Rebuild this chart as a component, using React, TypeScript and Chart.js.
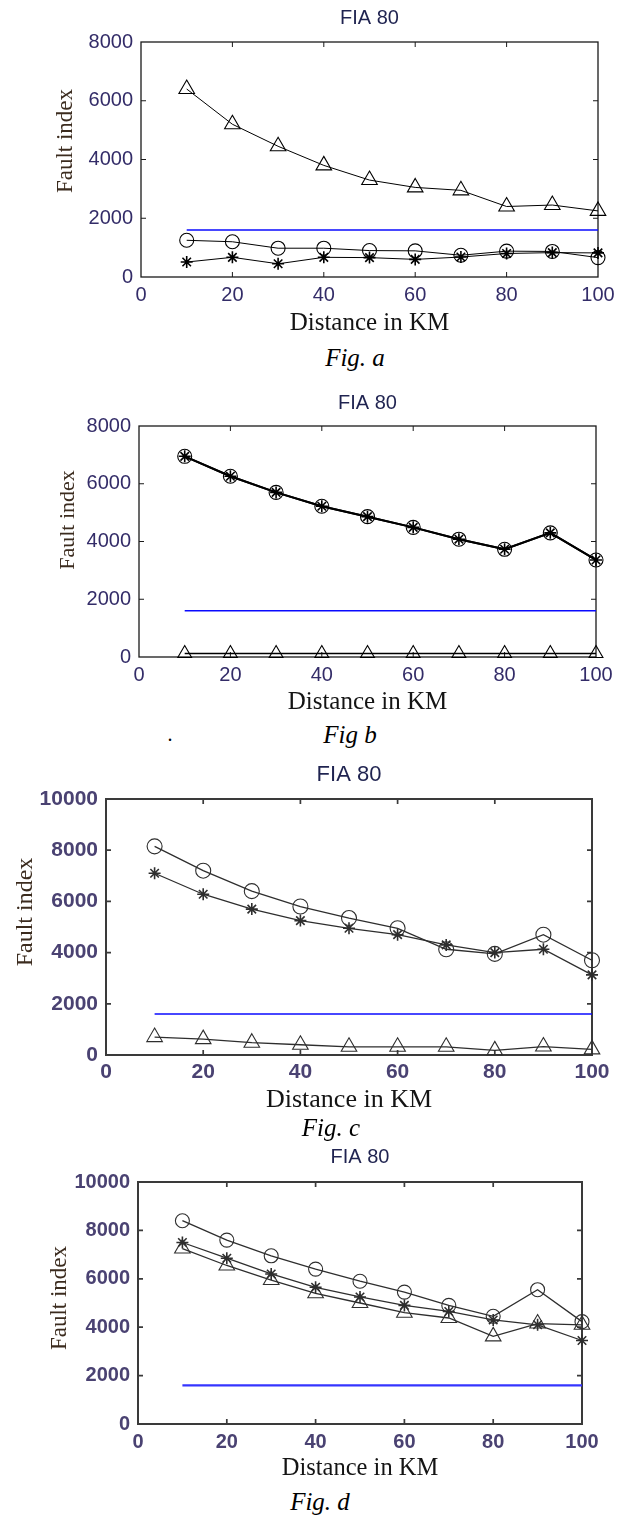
import React, { useEffect, useRef } from "react";
import { Chart, registerables } from "chart.js";
Chart.register(...registerables);

// ---------------- data ----------------
const distanceKm = [10, 20, 30, 40, 50, 60, 70, 80, 90, 100];
const chartTitle = "FIA 80";
const xAxisLabel = "Distance in KM";
const yAxisLabel = "Fault index";
const captions = ["Fig. a", "Fig b", "Fig. c", "Fig. d"];

// Fig. a
const aTriangle = [6400, 5200, 4450, 3800, 3300, 3050, 2950, 2400, 2450, 2250];
const aCircle = [1250, 1200, 980, 980, 900, 890, 740, 880, 870, 660];
const aStar = [510, 670, 450, 670, 660, 600, 680, 800, 830, 820];
const aThreshold = [1600, 1600, 1600, 1600, 1600, 1600, 1600, 1600, 1600, 1600];

// Fig b
const bCircle = [6950, 6260, 5700, 5220, 4860, 4490, 4080, 3730, 4300, 3360];
const bStar = [6950, 6260, 5700, 5220, 4860, 4490, 4080, 3730, 4300, 3360];
const bTriangle = [120, 120, 120, 120, 120, 120, 120, 120, 120, 120];
const bThreshold = [1600, 1600, 1600, 1600, 1600, 1600, 1600, 1600, 1600, 1600];

// Fig. c
const cCircle = [8150, 7200, 6400, 5800, 5350, 4950, 4130, 3950, 4700, 3700];
const cStar = [7100, 6280, 5700, 5250, 4950, 4700, 4300, 4000, 4130, 3130];
const cTriangle = [700, 620, 480, 400, 320, 320, 320, 180, 330, 220];
const cThreshold = [1600, 1600, 1600, 1600, 1600, 1600, 1600, 1600, 1600, 1600];

// Fig. d
const dCircle = [8400, 7600, 6950, 6400, 5900, 5450, 4900, 4450, 5550, 4230];
const dStar = [7500, 6850, 6200, 5650, 5250, 4900, 4650, 4300, 4100, 3450];
const dTriangle = [7250, 6550, 5950, 5400, 5000, 4600, 4380, 3620, 4150, 4100];
const dThreshold = [1600, 1600, 1600, 1600, 1600, 1600, 1600, 1600, 1600, 1600];

const xMax = 100;
const xStep = 20;
const yStep = 2000;

// ---------------- layout / styles ----------------
type SeriesSpec = { values: number[]; marker: string | false; color: string; width: number; radius: number };

type PanelSpec = {
  top: number;
  height: number;
  plotLeft: number;
  plotRight: number;
  plotTop: number;
  plotBottom: number;
  yMax: number;
  titleSize: number;
  titleCenter: number;
  tickSize: number;
  tickWeight: string;
  tickColor: string;
  tickPad: number;
  xTitleSize: number;
  yTitleSize: number;
  yTitleX: number;
  yTitleY: number;
  frameColor: string;
  frameWidth: number;
  series: SeriesSpec[];
  caption: string;
  captionX: number;
  captionY: number;
};

const BLACK = "#000000";
const GREY = "#2e2e2e";
const BLUE = "#0a0aff";

const panels: PanelSpec[] = [
  {
    top: 0, height: 338, plotLeft: 141, plotRight: 598, plotTop: 42, plotBottom: 277, yMax: 8000,
    titleSize: 20, titleCenter: 18, tickSize: 20, tickWeight: "normal", tickColor: "#332c68", tickPad: 6,
    xTitleSize: 25, yTitleSize: 23, yTitleX: 66, yTitleY: 141, frameColor: "#1a1a1a", frameWidth: 1.3,
    series: [
      { values: aTriangle, marker: "triangle", color: BLACK, width: 1, radius: 9 },
      { values: aThreshold, marker: false, color: BLUE, width: 1.6, radius: 0 },
      { values: aCircle, marker: "circle", color: BLACK, width: 1, radius: 7 },
      { values: aStar, marker: "star", color: BLACK, width: 1, radius: 6 },
    ],
    caption: captions[0], captionX: 355, captionY: 358,
  },
  {
    top: 380, height: 337, plotLeft: 139, plotRight: 596, plotTop: 46, plotBottom: 277, yMax: 8000,
    titleSize: 20, titleCenter: 23, tickSize: 20, tickWeight: "normal", tickColor: "#332c68", tickPad: 6,
    xTitleSize: 25, yTitleSize: 22, yTitleX: 68, yTitleY: 140, frameColor: "#1a1a1a", frameWidth: 1.3,
    series: [
      { values: bCircle, marker: "circle", color: BLACK, width: 2, radius: 7 },
      { values: bStar, marker: "star", color: BLACK, width: 2, radius: 6 },
      { values: bThreshold, marker: false, color: BLUE, width: 1.6, radius: 0 },
      { values: bTriangle, marker: "triangle", color: BLACK, width: 1.6, radius: 8 },
    ],
    caption: captions[1], captionX: 350, captionY: 735,
  },
  {
    top: 760, height: 356, plotLeft: 106, plotRight: 592, plotTop: 39, plotBottom: 295, yMax: 10000,
    titleSize: 22, titleCenter: 15, tickSize: 21, tickWeight: "bold", tickColor: "#4a4272", tickPad: 5,
    xTitleSize: 26, yTitleSize: 24, yTitleX: 26, yTitleY: 152, frameColor: "#3a3a3a", frameWidth: 2,
    series: [
      { values: cCircle, marker: "circle", color: GREY, width: 1.3, radius: 7.5 },
      { values: cStar, marker: "star", color: GREY, width: 1.3, radius: 6 },
      { values: cThreshold, marker: false, color: BLUE, width: 1.6, radius: 0 },
      { values: cTriangle, marker: "triangle", color: GREY, width: 1.3, radius: 9 },
    ],
    caption: captions[2], captionX: 331, captionY: 1128,
  },
  {
    top: 1140, height: 343, plotLeft: 138, plotRight: 582, plotTop: 42, plotBottom: 284, yMax: 10000,
    titleSize: 20, titleCenter: 17, tickSize: 20, tickWeight: "bold", tickColor: "#4a4272", tickPad: 6,
    xTitleSize: 24.5, yTitleSize: 23, yTitleX: 60, yTitleY: 158, frameColor: "#3a3a3a", frameWidth: 2,
    series: [
      { values: dCircle, marker: "circle", color: GREY, width: 1.3, radius: 7 },
      { values: dStar, marker: "star", color: GREY, width: 1.3, radius: 6 },
      { values: dTriangle, marker: "triangle", color: GREY, width: 1.3, radius: 9 },
      { values: dThreshold, marker: false, color: "#3535ff", width: 2.2, radius: 0 },
    ],
    caption: captions[3], captionX: 320, captionY: 1502,
  },
];

const SANS = "'Liberation Sans', Arial, sans-serif";
const SERIF = "'Liberation Serif', 'Times New Roman', serif";

const framePlugin = {
  id: "frame",
  beforeDatasetsDraw(chart: any, _args: any, opts: any) {
    const { ctx, chartArea } = chart;
    const { left, right, top, bottom } = chartArea;
    const xs = chart.scales.x;
    const ys = chart.scales.y;
    ctx.save();
    ctx.strokeStyle = opts.color;
    ctx.lineWidth = opts.width;
    ctx.strokeRect(left, top, right - left, bottom - top);
    ctx.beginPath();
    const tl = 5;
    xs.ticks.forEach((t: any) => {
      const p = xs.getPixelForValue(t.value);
      if (p <= left + 1 || p >= right - 1) return;
      ctx.moveTo(p, bottom);
      ctx.lineTo(p, bottom - tl);
      ctx.moveTo(p, top);
      ctx.lineTo(p, top + tl);
    });
    ys.ticks.forEach((t: any) => {
      const p = ys.getPixelForValue(t.value);
      if (p <= top + 1 || p >= bottom - 1) return;
      ctx.moveTo(left, p);
      ctx.lineTo(left + tl, p);
      ctx.moveTo(right, p);
      ctx.lineTo(right - tl, p);
    });
    ctx.lineWidth = Math.max(1, opts.width - 0.3);
    ctx.stroke();
    ctx.restore();
  },
  afterDraw(chart: any, _args: any, opts: any) {
    const { ctx } = chart;
    ctx.save();
    ctx.translate(opts.yTitleX, opts.yTitleY);
    ctx.rotate(-Math.PI / 2);
    ctx.font = `${opts.yTitleSize}px ${SERIF}`;
    ctx.fillStyle = "#3b2b1e";
    ctx.textAlign = "center";
    ctx.textBaseline = "middle";
    ctx.fillText(opts.yTitleText, 0, 0);
    ctx.restore();
  },
};

function Panel({ spec }: { spec: PanelSpec }) {
  const ref = useRef<HTMLCanvasElement | null>(null);
  useEffect(() => {
    if (!ref.current) return;
    const titleLH = spec.titleSize * 1.2;
    const titlePadTop = spec.titleCenter - titleLH / 2;
    const titlePadBottom = spec.plotTop - titlePadTop - titleLH;
    const chart = new Chart(ref.current, {
      type: "line",
      data: {
        datasets: spec.series.map((s, i) => ({
          label: "s" + i,
          data: distanceKm.map((d, j) => ({ x: d, y: s.values[j] })),
          borderColor: s.color,
          borderWidth: s.width,
          pointStyle: s.marker === false ? false : (s.marker as any),
          pointRadius: s.radius,
          pointBorderColor: s.color,
          pointBorderWidth: s.marker === "star" ? 1.6 : 1.1,
          pointBackgroundColor: "rgba(0,0,0,0)",
          tension: 0,
          clip: false as any,
        })),
      },
      options: {
        responsive: false,
        animation: false,
        events: [],
        layout: { padding: { top: 0, left: 0, bottom: 0, right: 624 - spec.plotRight } },
        plugins: {
          legend: { display: false },
          tooltip: { enabled: false },
          title: {
            display: true,
            text: chartTitle,
            fullSize: false,
            color: "#1f2350",
            font: { family: SANS, size: spec.titleSize, weight: "normal" as any, lineHeight: 1.2 },
            padding: { top: titlePadTop, bottom: titlePadBottom },
          },
          frame: {
            color: spec.frameColor,
            width: spec.frameWidth,
            yTitleX: spec.yTitleX,
            yTitleY: spec.yTitleY,
            yTitleSize: spec.yTitleSize,
            yTitleText: yAxisLabel,
          },
        } as any,
        scales: {
          x: {
            type: "linear",
            min: 0,
            max: xMax,
            grid: { display: false, drawTicks: false },
            border: { display: false },
            ticks: {
              stepSize: xStep,
              padding: spec.tickPad,
              maxRotation: 0,
              color: spec.tickColor,
              font: { family: SANS, size: spec.tickSize, weight: spec.tickWeight as any, lineHeight: 1.2 },
              callback: (v: any) => String(v),
            },
            title: {
              display: true,
              text: xAxisLabel,
              color: "#141414",
              padding: 0,
              font: { family: SERIF, size: spec.xTitleSize, lineHeight: 1.2 },
            },
            afterFit: (s: any) => {
              s.height = spec.height - spec.plotBottom;
            },
          },
          y: {
            type: "linear",
            min: 0,
            max: spec.yMax,
            grid: { display: false, drawTicks: false },
            border: { display: false },
            ticks: {
              stepSize: yStep,
              padding: 8,
              color: spec.tickColor,
              font: { family: SANS, size: spec.tickSize, weight: spec.tickWeight as any, lineHeight: 1.2 },
              callback: (v: any) => String(v),
            },
            afterFit: (s: any) => {
              s.width = spec.plotLeft;
            },
          },
        },
      },
      plugins: [framePlugin as any],
    });
    return () => chart.destroy();
  }, [spec]);
  return (
    <canvas
      ref={ref}
      width={624}
      height={spec.height}
      style={{ position: "absolute", left: 0, top: spec.top, width: 624, height: spec.height }}
    />
  );
}

export default function App() {
  return (
    <div style={{ position: "absolute", left: 0, top: 0, width: 624, height: 1516, background: "#ffffff", overflow: "hidden" }}>
      {panels.map((p, i) => (
        <React.Fragment key={i}>
          <Panel spec={p} />
          <div
            style={{
              position: "absolute",
              left: p.captionX - 100,
              width: 200,
              top: p.captionY - 16,
              height: 32,
              lineHeight: "32px",
              textAlign: "center",
              fontFamily: SERIF,
              fontStyle: "italic",
              fontSize: 25,
              color: "#000",
            }}
          >
            {p.caption}
          </div>
        </React.Fragment>
      ))}
      <div
        style={{
          position: "absolute",
          left: 160,
          top: 722,
          width: 20,
          height: 24,
          lineHeight: "24px",
          textAlign: "center",
          fontFamily: SERIF,
          fontSize: 20,
          color: "#000",
        }}
      >
        .
      </div>
    </div>
  );
}
